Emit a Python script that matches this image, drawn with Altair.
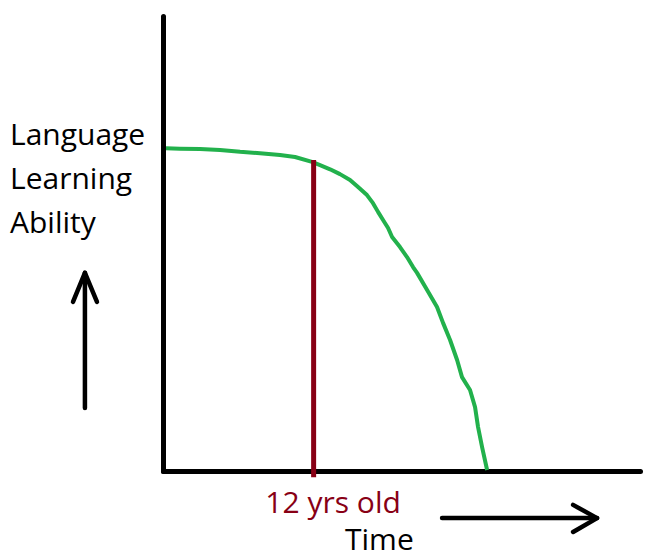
import altair as alt
import pandas as pd

# Green curve: language learning ability over time (years)
curve_years = [0.24, 1.35, 2.95, 4.54, 6.14, 7.73, 9.32, 10.52, 11.87, 12.51, 13.31, 14.10,
               14.90, 15.54, 16.25, 16.73, 17.13, 17.53, 17.93, 18.25, 18.88, 19.44, 19.92,
               20.24, 21.04, 21.83, 22.31, 22.87, 23.43, 23.82, 24.46, 24.86, 25.10, 25.42, 25.82]
curve_ability = [100.0, 99.9, 99.8, 99.5, 98.9, 98.5, 97.9, 97.3, 95.8, 94.8, 93.5, 92.0,
                 90.2, 88.0, 85.5, 83.0, 80.3, 77.8, 75.3, 72.5, 69.4, 66.3, 63.2,
                 61.4, 56.1, 50.8, 45.9, 40.6, 34.4, 29.1, 25.1, 19.8, 13.6, 7.4, 0.3]

# Red marker at 12 years
marker_year = 12
marker_top = 96.4
marker_bottom = -1.9

# Text annotations
label_text = ["Language", "Learning", "Ability", "12 yrs old", "Time"]
label_x = [-12.19, -12.19, -12.19, 13.55, 14.5]
label_y = [101.0, 87.4, 73.8, -13.0, -24.5]
label_color = ["black", "black", "black", "#880015", "black"]
label_align = ["left", "left", "left", "center", "left"]

# Arrows (segments: id, order, x, y)
arrow_id = ["up_shaft", "up_shaft", "up_head", "up_head", "up_head",
            "right_shaft", "right_shaft", "right_head", "right_head", "right_head"]
arrow_ord = [0, 1, 0, 1, 2, 0, 1, 0, 1, 2]
arrow_x = [-6.22, -6.22, -7.17, -6.22, -5.26, 22.23, 34.58, 32.67, 34.58, 32.67]
arrow_y = [19.5, 61.4, 52.4, 61.4, 52.4, -14.6, -14.6, -10.5, -14.6, -18.9]

X_DOMAIN = [0, 38.0]
Y_DOMAIN = [0, 141.0]

xs = alt.Scale(domain=X_DOMAIN, nice=False, zero=False)
ys = alt.Scale(domain=Y_DOMAIN, nice=False, zero=False)

axis_common = dict(domainColor="black", domainWidth=5, ticks=False, labels=False,
                   grid=False, title=None, domainCap="round")

curve_df = pd.DataFrame({"year": curve_years, "ability": curve_ability})
curve = alt.Chart(curve_df).mark_line(color="#22B14C", strokeWidth=4, clip=False,
                                      strokeJoin="round").encode(
    x=alt.X("year:Q", scale=xs, axis=alt.Axis(**axis_common)),
    y=alt.Y("ability:Q", scale=ys, axis=alt.Axis(**axis_common)),
)

marker_df = pd.DataFrame({"year": [marker_year], "top": [marker_top], "bottom": [marker_bottom]})
marker = alt.Chart(marker_df).mark_rule(color="#880015", strokeWidth=5, clip=False).encode(
    x=alt.X("year:Q", scale=xs),
    y=alt.Y("top:Q", scale=ys),
    y2="bottom:Q",
)

lab_df = pd.DataFrame({"text": label_text, "x": label_x, "y": label_y,
                       "color": label_color, "align": label_align})
layers_text = []
for al in ["left", "center"]:
    sub = lab_df[lab_df["align"] == al]
    layers_text.append(
        alt.Chart(sub).mark_text(align=al, baseline="alphabetic", font="Open Sans",
                                 fontSize=30, clip=False).encode(
            x=alt.X("x:Q", scale=xs),
            y=alt.Y("y:Q", scale=ys),
            text="text:N",
            color=alt.Color("color:N", scale=None),
        )
    )

arrow_df = pd.DataFrame({"id": arrow_id, "ord": arrow_ord, "x": arrow_x, "y": arrow_y})
arrows = alt.Chart(arrow_df).mark_line(color="black", strokeWidth=4.5, strokeCap="round",
                                       strokeJoin="round", clip=False).encode(
    x=alt.X("x:Q", scale=xs),
    y=alt.Y("y:Q", scale=ys),
    detail="id:N",
    order="ord:Q",
)

chart = alt.layer(curve, marker, arrows, *layers_text).properties(
    width=477, height=455,
    autosize=alt.AutoSizeParams(type="none"),
    padding={"left": 163, "top": 16, "right": 7, "bottom": 88},
).configure(background="white", view=alt.ViewConfig(stroke=None))

chart.save("out.html", embed_options={"renderer": "svg", "actions": False})
